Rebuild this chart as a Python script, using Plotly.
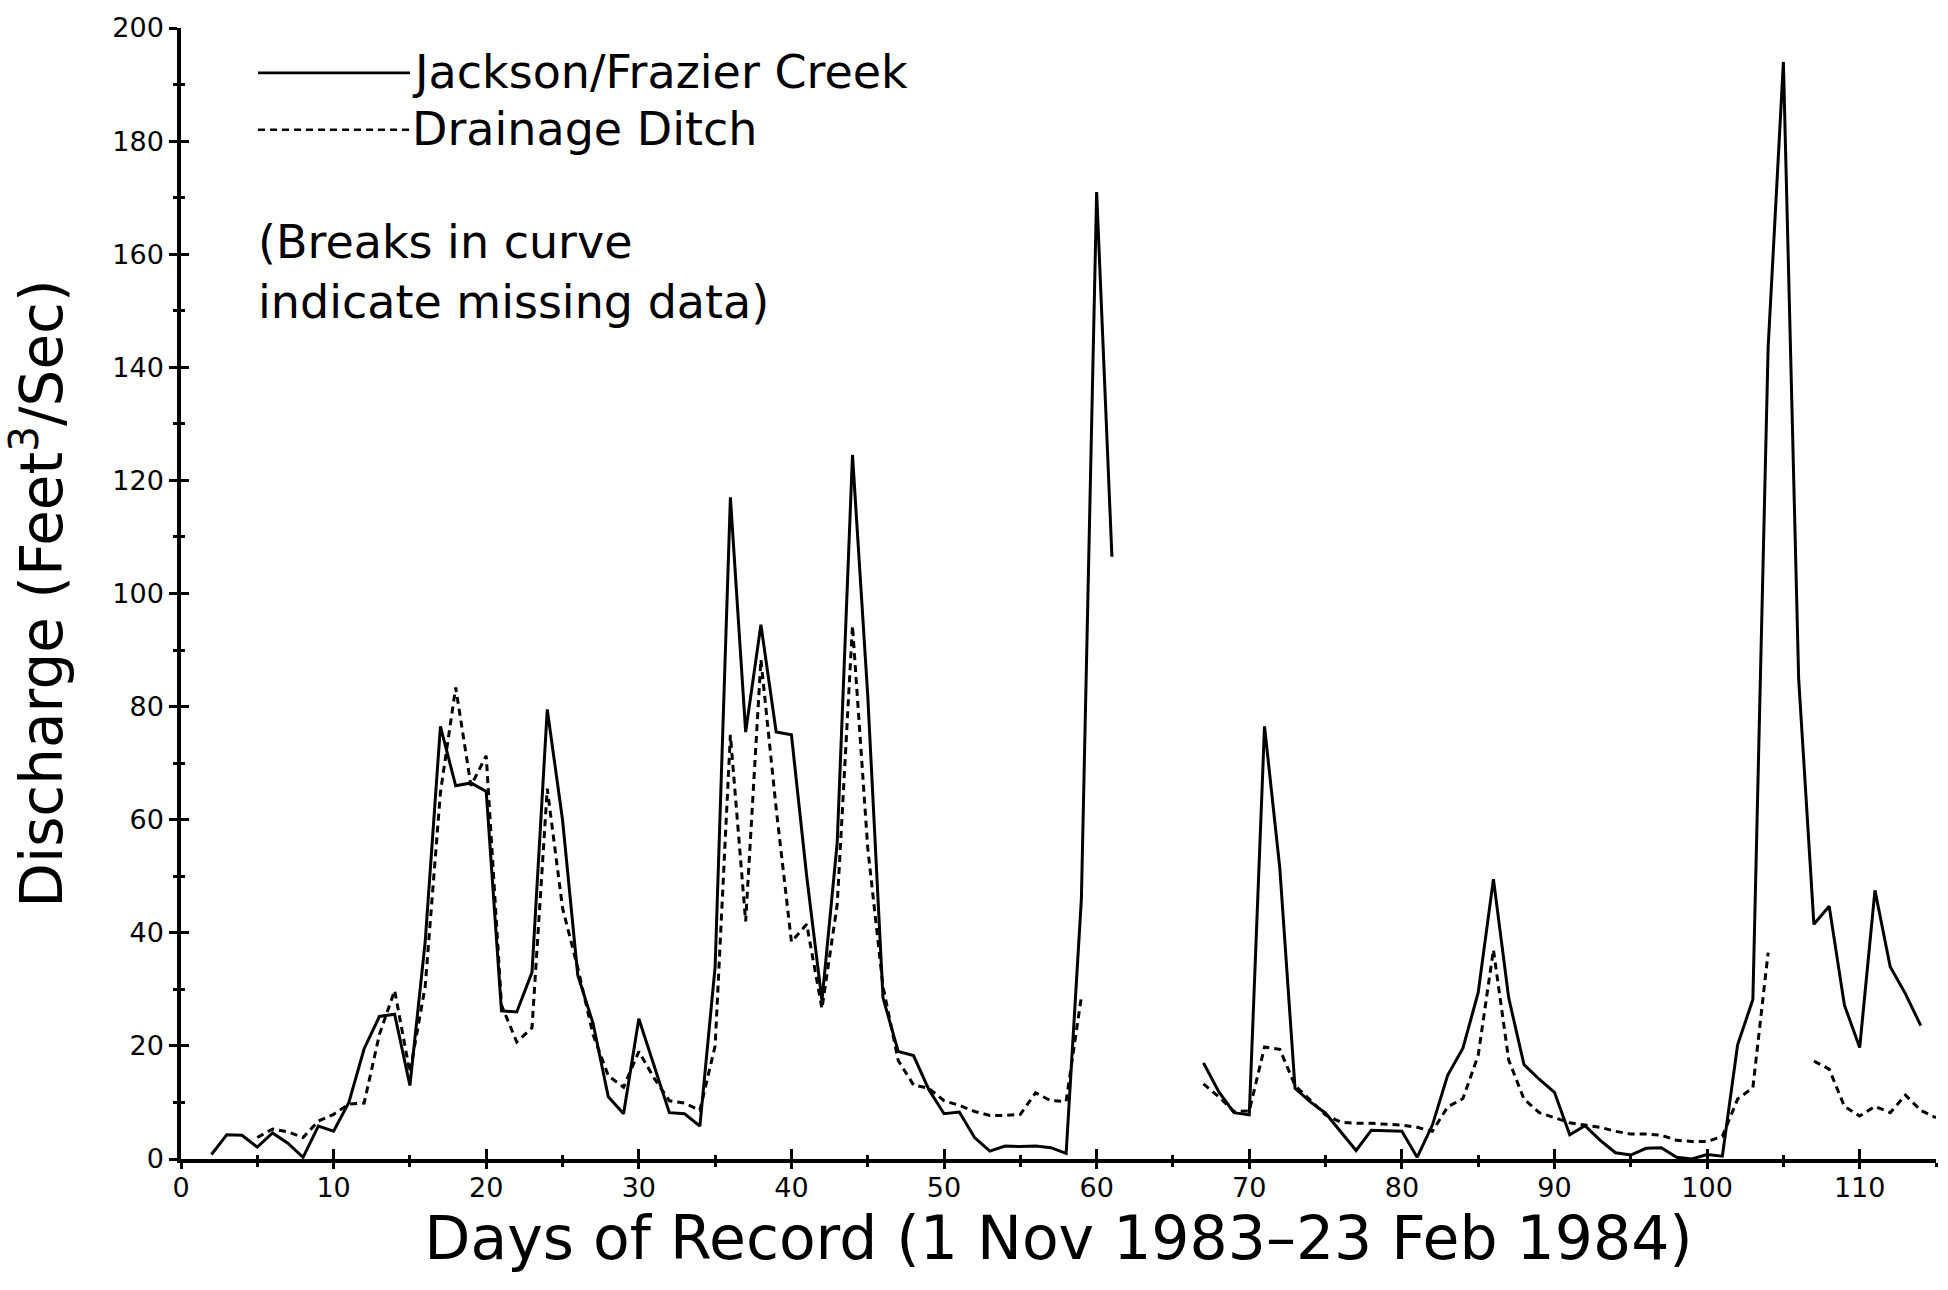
import plotly.graph_objects as go

# Daily discharge, days 1..115 of the record (None = missing data)
days = list(range(1, 116))

jackson_values = {
    2: 0.8, 3: 4.3, 4: 4.2, 5: 2.1, 6: 4.6, 7: 2.8, 8: 0.3, 9: 5.8, 10: 4.9,
    11: 10.0, 12: 19.5, 13: 25.2, 14: 25.6, 15: 13.0, 16: 38.4, 17: 76.5, 18: 66.0,
    19: 66.5, 20: 65.0, 21: 26.2, 22: 26.0, 23: 33.0, 24: 79.5, 25: 60.0, 26: 32.5,
    27: 24.0, 28: 11.0, 29: 8.0, 30: 24.8, 31: 16.5, 32: 8.2, 33: 8.0, 34: 5.8,
    35: 34.0, 36: 117.0, 37: 75.5, 38: 94.5, 39: 75.5, 40: 75.0, 41: 50.0, 42: 28.0,
    43: 56.0, 44: 124.5, 45: 82.0, 46: 28.5, 47: 19.0, 48: 18.3, 49: 12.3, 50: 8.0,
    51: 8.3, 52: 3.8, 53: 1.4, 54: 2.3, 55: 2.2, 56: 2.3, 57: 2.0, 58: 1.0,
    59: 46.0, 60: 171.0, 61: 106.5,
    67: 17.0, 68: 11.9, 69: 8.2, 70: 7.8, 71: 76.5, 72: 51.5, 73: 12.5, 74: 10.1,
    75: 8.1, 76: 4.9, 77: 1.5, 78: 5.1, 79: 5.0, 80: 4.9, 81: 0.3, 82: 6.0,
    83: 14.8, 84: 19.6, 85: 29.4, 86: 49.5, 87: 28.5, 88: 16.7, 89: 14.1, 90: 11.8,
    91: 4.3, 92: 5.9, 93: 3.3, 94: 1.1, 95: 0.7, 96: 1.9, 97: 2.0, 98: 0.3,
    99: 0.0, 100: 0.8, 101: 0.5, 102: 20.2, 103: 28.2, 104: 143.5, 105: 194.0,
    106: 85.0, 107: 41.5, 108: 44.7, 109: 27.2, 110: 19.7, 111: 47.5, 112: 34.0,
    113: 29.2, 114: 23.6,
}

ditch_values = {
    5: 3.8, 6: 5.3, 7: 4.8, 8: 3.8, 9: 6.7, 10: 7.9, 11: 9.7, 12: 9.9, 13: 22.0,
    14: 29.8, 15: 15.3, 16: 30.5, 17: 64.8, 18: 83.4, 19: 66.0, 20: 71.3, 21: 27.2,
    22: 20.7, 23: 23.2, 24: 65.5, 25: 44.4, 26: 33.8, 27: 22.0, 28: 14.7, 29: 12.7,
    30: 19.0, 31: 14.3, 32: 10.3, 33: 9.9, 34: 8.6, 35: 20.0, 36: 75.0, 37: 42.0,
    38: 88.3, 39: 62.0, 40: 38.4, 41: 41.5, 42: 26.6, 43: 45.0, 44: 94.3, 45: 55.0,
    46: 30.5, 47: 17.4, 48: 13.1, 49: 12.5, 50: 10.3, 51: 9.5, 52: 8.4, 53: 7.7,
    54: 7.7, 55: 7.9, 56: 11.7, 57: 10.3, 58: 10.2, 59: 28.7,
    67: 13.3, 68: 11.0, 69: 8.4, 70: 8.5, 71: 19.8, 72: 19.4, 73: 13.0, 74: 10.4,
    75: 7.8, 76: 6.5, 77: 6.3, 78: 6.3, 79: 6.1, 80: 6.0, 81: 5.6, 82: 4.9,
    83: 9.2, 84: 10.7, 85: 18.3, 86: 37.0, 87: 17.5, 88: 10.6, 89: 8.2, 90: 7.3,
    91: 6.4, 92: 6.0, 93: 5.6, 94: 4.9, 95: 4.4, 96: 4.4, 97: 4.2, 98: 3.3,
    99: 3.1, 100: 3.1, 101: 4.0, 102: 10.6, 103: 12.6, 104: 36.5,
    107: 17.3, 108: 15.9, 109: 9.3, 110: 7.6, 111: 9.3, 112: 8.2, 113: 11.3,
    114: 8.6, 115: 7.3,
}

jackson = [jackson_values.get(d) for d in days]
ditch = [ditch_values.get(d) for d in days]

series_names = ["Jackson/Frazier Creek", "Drainage Ditch"]
x_title = "Days of Record (1 Nov 1983\u201323 Feb 1984)"
y_title = "Discharge (Feet<sup>3</sup>/Sec)"
note_lines = ["(Breaks in curve", "indicate missing data)"]

FONT = "DejaVu Sans"
INK = "black"
DITCH_DASH = "7px,5px"

fig = go.Figure()
fig.add_trace(go.Scatter(
    x=days, y=jackson, mode="lines", name=series_names[0],
    connectgaps=False, line=dict(color=INK, width=3),
    xaxis="x", yaxis="y",
))
fig.add_trace(go.Scatter(
    x=days, y=ditch, mode="lines", name=series_names[1],
    connectgaps=False, line=dict(color=INK, width=3, dash=DITCH_DASH),
    xaxis="x2", yaxis="y2",
))

common_x = dict(range=[0, 115], showgrid=False, zeroline=False, tick0=0, dtick=10,
                tickcolor=INK, tickwidth=3, fixedrange=True)
common_y = dict(range=[0, 200], showgrid=False, zeroline=False, tick0=0, dtick=20,
                tickcolor=INK, tickwidth=3, fixedrange=True)

# Ticks cross the axis lines: the main axes carry the outer half,
# the overlaid axes carry the inner half.
fig.update_layout(
    width=1948, height=1290,
    margin=dict(l=181, r=12, t=25, b=131),
    paper_bgcolor="white", plot_bgcolor="white",
    font=dict(family=FONT, color=INK),
    showlegend=False,
    xaxis=dict(
        **common_x,
        showline=True, linecolor=INK, linewidth=3.5,
        ticks="outside", ticklen=6, ticklabelstandoff=-4,
        minor=dict(dtick=5, ticks="outside", ticklen=4, tickwidth=3, tickcolor=INK),
        tickfont=dict(size=27, family=FONT, color=INK),
        title=dict(text=x_title, font=dict(size=60, family=FONT, color=INK), standoff=0),
    ),
    yaxis=dict(
        **common_y,
        showline=True, linecolor=INK, linewidth=3.5,
        ticks="outside", ticklen=8,
        minor=dict(dtick=10, ticks="outside", ticklen=4, tickwidth=3, tickcolor=INK),
        tickfont=dict(size=27, family=FONT, color=INK),
        title=dict(text=y_title, font=dict(size=58, family=FONT, color=INK), standoff=36),
    ),
    xaxis2=dict(
        **common_x, overlaying="x", anchor="y2", side="bottom",
        showline=False, showticklabels=False,
        ticks="inside", ticklen=10,
        minor=dict(dtick=5, ticks="inside", ticklen=4, tickwidth=3, tickcolor=INK),
    ),
    yaxis2=dict(
        **common_y, overlaying="y", anchor="x2", side="left",
        showline=False, showticklabels=False,
        ticks="inside", ticklen=8,
        minor=dict(dtick=10, ticks="inside", ticklen=4, tickwidth=3, tickcolor=INK),
    ),
)

# Key: a line sample followed directly by the series name
key_rows = [(0.9603, None), (0.910, DITCH_DASH)]
for name, (ky, dash) in zip(series_names, key_rows):
    fig.add_shape(
        type="line", xref="paper", yref="paper",
        x0=0.0439, x1=0.1305, y0=ky, y1=ky,
        line=dict(color=INK, width=2.6, dash=dash),
    )
    fig.add_annotation(
        text=name, xref="paper", yref="paper",
        x=0.1305, y=ky + 0.001, xanchor="left", yanchor="middle",
        showarrow=False, font=dict(size=46, family=FONT, color=INK),
    )

# Note about gaps in the record
for i, line in enumerate(note_lines):
    fig.add_annotation(
        text=line, xref="paper", yref="paper",
        x=0.043, y=0.811 - i * 0.0535, xanchor="left", yanchor="middle",
        showarrow=False, font=dict(size=46, family=FONT, color=INK),
    )

fig.write_html("out.html")
